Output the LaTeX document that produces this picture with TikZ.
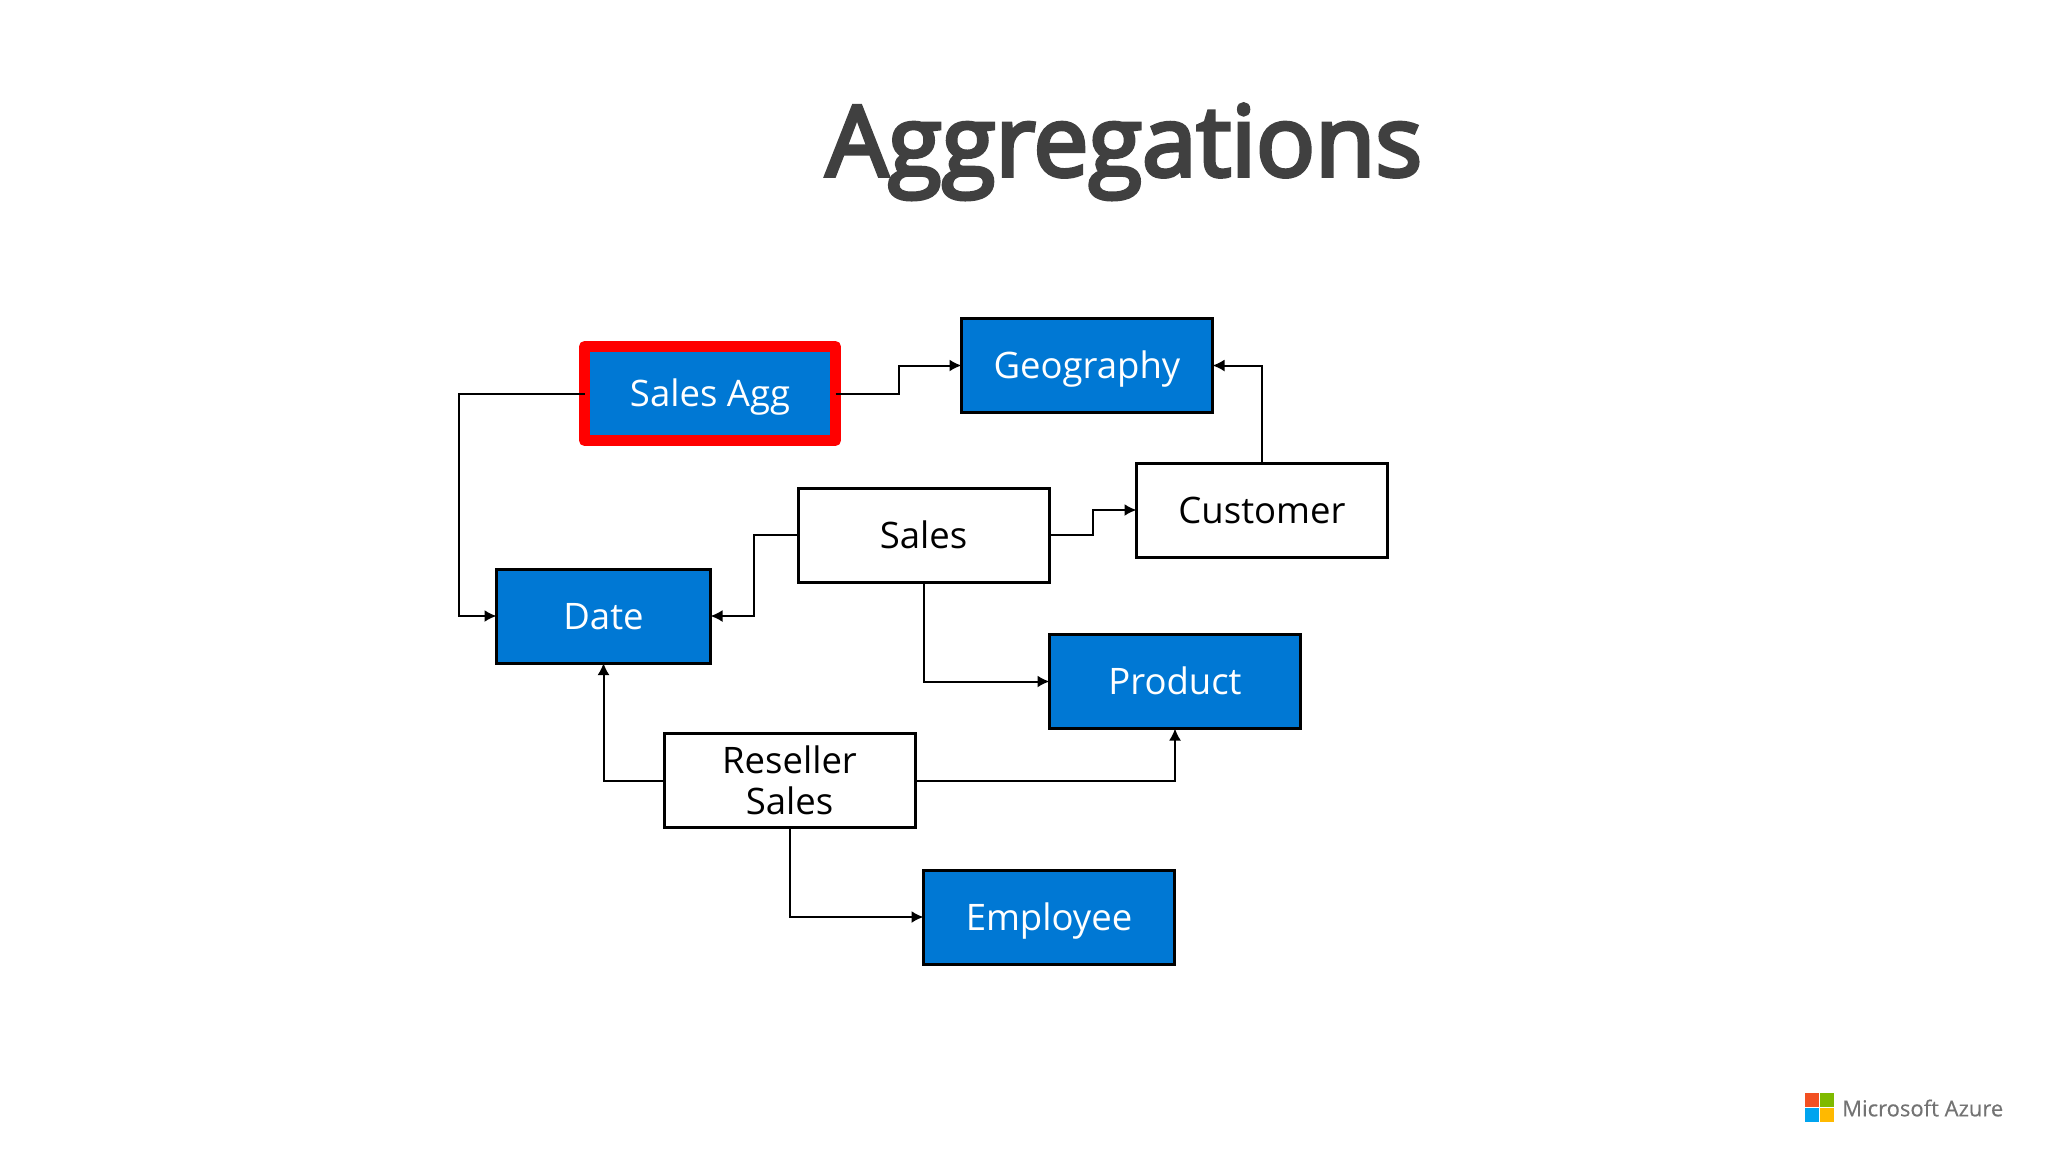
\documentclass[tikz,border=0pt]{standalone}
\usepackage{fontspec}
\setmainfont{Open Sans}
\newfontfamily\titlefont[FakeBold=4]{Open Sans}
\newfontfamily\logofont[FakeBold=0.4]{Open Sans}
\usetikzlibrary{arrows.meta}
\definecolor{azureblue}{HTML}{0078D4}
\definecolor{titlegray}{HTML}{404040}
\definecolor{logogray}{HTML}{737373}
\definecolor{logored}{HTML}{F25022}
\definecolor{logogreen}{HTML}{7FBA00}
\definecolor{logoblue}{HTML}{00A4EF}
\definecolor{logoyellow}{HTML}{FFB900}
\tikzset{
    table/.style={draw=black,line width=3pt,minimum width=251pt,minimum height=94pt,outer sep=0pt,align=center,text height=34pt,text depth=8pt,font=\fontsize{36.5}{41}\selectfont},
    dim/.style={table,fill=azureblue,text=white},
    fact/.style={table,fill=white,text=black},
    conn/.style={->,line width=2pt},
}

\begin{document}
\begin{tikzpicture}[>={Latex[length=12pt,width=12pt]},x=1pt,y=-1pt]
    \useasboundingbox (0,0) rectangle (2048,1152);
    \node[anchor=base,text=titlegray,font=\fontsize{98}{110}\selectfont\titlefont] (title) at (1124,176) {Aggregations};

    \node[dim,draw=red,line width=11pt,line join=round] (agg) at (710,393.5) {Sales Agg};
    \node[dim] (geo) at (1087,365.5) {Geography};
    \node[fact] (customer) at (1262,510) {Customer};
    \node[fact] (sales) at (923.5,535) {Sales};
    \node[dim,minimum width=214pt] (date) at (603.5,616) {Date};
    \node[dim] (product) at (1175,681.5) {Product};
    \node[fact,text width=200pt,text height=,text depth=] (reseller) at (789.5,780.5) {Reseller\\Sales};
    \node[dim] (employee) at (1049,917) {Employee};

    \coordinate (aggleft) at (459,393.5);
    \coordinate (aggright) at (899,393.5);
    \coordinate (salesleft) at (754,535);
    \coordinate (salesright) at (1093,535);

    \draw[conn] (agg.west) -- (aggleft) |- (date.west);
    \draw[conn] (agg.east) -- (aggright) |- (geo.west);
    \draw[conn] (customer.north) |- (geo.east);
    \draw[conn] (sales.west) -- (salesleft) |- (date.east);
    \draw[conn] (sales.east) -- (salesright) |- (customer.west);
    \draw[conn] (sales.south) |- (product.west);
    \draw[conn] (reseller.west) -| (date.south);
    \draw[conn] (reseller.east) -| (product.south);
    \draw[conn] (reseller.south) |- (employee.west);

    \fill[logored] (1805,1093) rectangle (1819,1107);
    \fill[logogreen] (1820,1093) rectangle (1834,1107);
    \fill[logoblue] (1805,1108) rectangle (1819,1122);
    \fill[logoyellow] (1820,1108) rectangle (1834,1122);
    \node[anchor=west,inner sep=0pt,text=logogray,font=\fontsize{22}{26}\selectfont\logofont] (azure) at (1842,1108) {Microsoft Azure};
\end{tikzpicture}
\end{document}
